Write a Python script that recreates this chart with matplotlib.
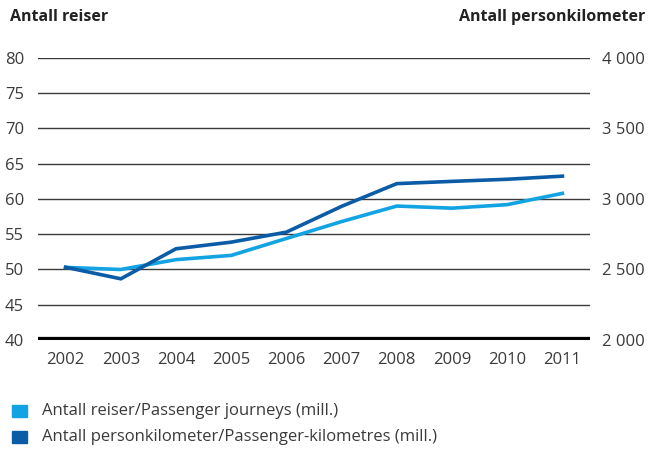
import matplotlib
matplotlib.use("Agg")
import matplotlib.pyplot as plt
from matplotlib.patches import Rectangle

years = ["2002", "2003", "2004", "2005", "2006", "2007", "2008", "2009", "2010", "2011"]
journeys = [50.3, 50.0, 51.4, 52.0, 54.4, 56.8, 59.0, 58.7, 59.2, 60.8]
pkm = [2516, 2434, 2647, 2694, 2765, 2948, 3109, 3125, 3140, 3162]

left_ticks = [40, 45, 50, 55, 60, 65, 70, 75, 80]
right_ticks = [2000, 2500, 3000, 3500, 4000]
right_labels = ["2 000", "2 500", "3 000", "3 500", "4 000"]

light = "#12a3e3"
dark = "#0b5ca6"
txt = "#3a3a3a"
font = "Open Sans"
fs = 12

fig = plt.figure(figsize=(6.48, 4.5), dpi=100)
ax = fig.add_axes([38/648, 1-340/450, 552/648, 282/450])
ax2 = ax.twinx()

x = list(range(len(years)))
ax.set_xlim(-0.5, len(years)-0.5)
ax.set_ylim(40, 80)
ax2.set_ylim(2000, 4000)

for t in left_ticks[1:]:
    ax.axhline(t, color="#3a3a3a", lw=1.0, zorder=1)
ax.axhline(40, color="black", lw=4.5, zorder=3)

ax.plot(x, journeys, color=light, lw=2.6, zorder=4, solid_joinstyle="miter")
ax2.plot(x, pkm, color=dark, lw=2.6, zorder=4, solid_joinstyle="miter")

for a in (ax, ax2):
    for s in a.spines.values():
        s.set_visible(False)
    a.tick_params(length=0)

ax.set_xticks(x)
ax.set_xticklabels(years, fontfamily=font, fontsize=fs, color=txt)
ax.tick_params(axis="x", pad=9)
ax.set_yticks(left_ticks)
ax.set_yticklabels([str(t) for t in left_ticks], fontfamily=font, fontsize=fs, color=txt)
ax.tick_params(axis="y", pad=10)
ax2.set_yticks(right_ticks)
ax2.set_yticklabels(right_labels, fontfamily=font, fontsize=fs, color=txt)
ax2.tick_params(axis="y", pad=9)

fig.text(10/648, 1-17/450, "Antall reiser", fontfamily=font, fontweight="bold",
         fontsize=11.5, color="#222222", ha="left", va="center")
fig.text(645/648, 1-17/450, "Antall personkilometer", fontfamily=font, fontweight="bold",
         fontsize=11.5, color="#222222", ha="right", va="center")

labels = ["Antall reiser/Passenger journeys (mill.)",
          "Antall personkilometer/Passenger-kilometres (mill.)"]
for i, (lab, c) in enumerate(zip(labels, [light, dark])):
    yc = 411 + i*26
    fig.patches.append(Rectangle((12/648, 1-(yc+6)/450), 15/648, 12/450,
                                 transform=fig.transFigure, color=c, figure=fig))
    fig.text(42/648, 1-yc/450, lab, fontfamily=font, fontsize=fs, color=txt,
             ha="left", va="center")

fig.savefig("out.png", dpi=100)
